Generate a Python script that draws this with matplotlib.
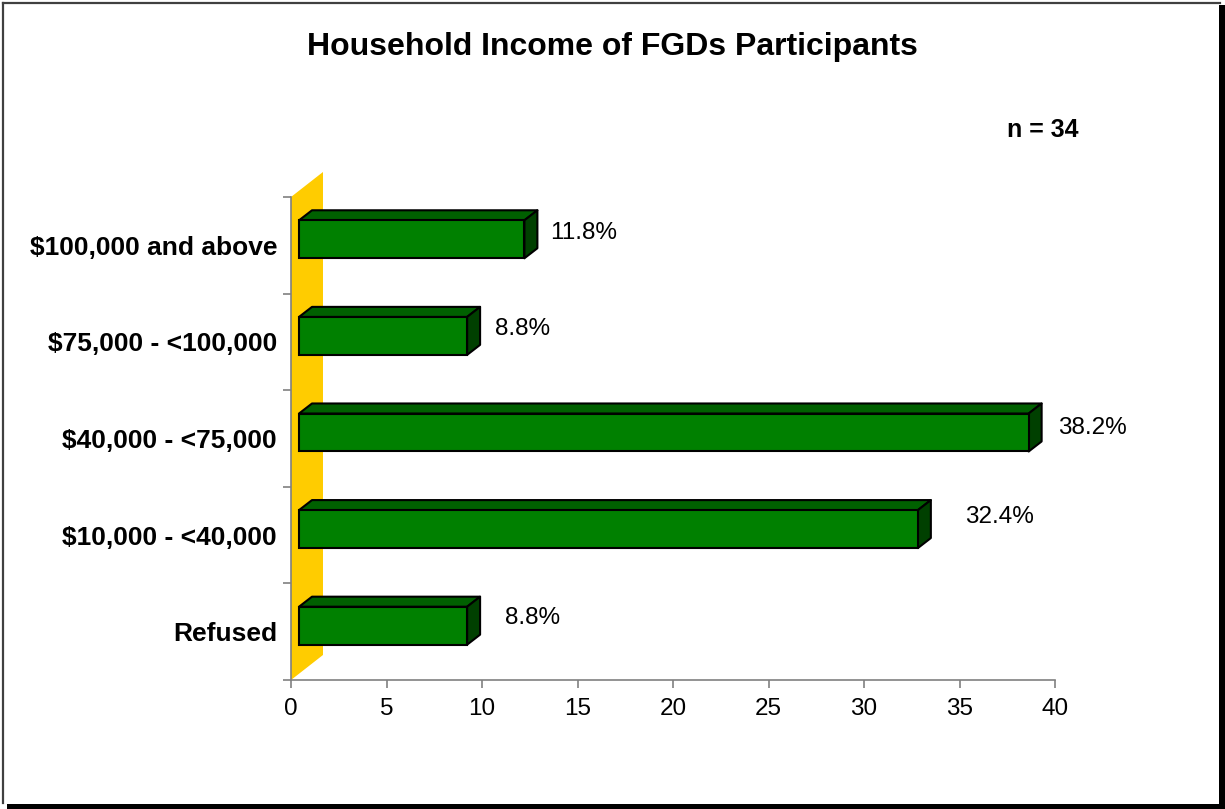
import matplotlib.pyplot as plt
from matplotlib.patches import Polygon, Rectangle
from matplotlib.lines import Line2D

plt.rcParams['font.family'] = ['Liberation Sans', 'DejaVu Sans']

# data dari gambar (urut dari bawah ke atas)
kategori = ["Refused", "$10,000 - <40,000", "$40,000 - <75,000",
            "$75,000 - <100,000", "$100,000 and above"]
persen = [8.8, 32.4, 38.2, 8.8, 11.8]
label_persen = ["8.8%", "32.4%", "38.2%", "8.8%", "11.8%"]
x_ticks = [0, 5, 10, 15, 20, 25, 30, 35, 40]
judul = "Household Income of FGDs Participants"
n_text = "n = 34"

# geser label persen (pixel) dari ujung bar
geser_x = [46, 55, 37, 36, 34]
geser_y = [14, 18, 10, 13, 12]

W, H = 1225, 809
fig = plt.figure(figsize=(W / 100, H / 100), dpi=100)
ax = fig.add_axes([291 / W, 1 - 680 / H, 764 / W, 483 / H])
ax.set_xlim(0, 40)
ax.set_ylim(-0.5, len(kategori) - 0.5)

# efek 3d
x0 = 0.42        # awal muka depan bar
dx = 0.68        # kedalaman ke belakang (data x)
dy = 0.104       # kedalaman ke atas (data y)
tinggi = 0.393
naik = 0.062
lw = 1.5

# dinding kuning
wx = 1.675
wy = 0.259
ytop = len(kategori) - 0.5
dinding = Polygon([(0, -0.5), (0, ytop), (wx, ytop + wy), (wx, -0.5 + wy)],
                  closed=True, facecolor="#FFCC00", edgecolor="none",
                  clip_on=False, zorder=1)
ax.add_patch(dinding)

for i, v in enumerate(persen):
    b = i + naik - tinggi / 2
    t = b + tinggi
    x1 = x0 + v
    depan = Rectangle((x0, b), v, tinggi, facecolor="#008000",
                      edgecolor="black", linewidth=lw, zorder=3)
    atas = Polygon([(x0, t), (x0 + dx, t + dy), (x1 + dx, t + dy), (x1, t)],
                   closed=True, facecolor="#006000", edgecolor="black",
                   linewidth=lw, zorder=3, joinstyle="round")
    samping = Polygon([(x1, b), (x1, t), (x1 + dx, t + dy), (x1 + dx, b + dy)],
                      closed=True, facecolor="#004000", edgecolor="black",
                      linewidth=lw, zorder=3, joinstyle="round")
    ax.add_patch(atas)
    ax.add_patch(samping)
    ax.add_patch(depan)
    ax.annotate(label_persen[i], xy=(v, i), xytext=(geser_x[i] * 0.72, geser_y[i] * 0.72),
                textcoords="offset points", ha="left", va="center",
                fontsize=17.5, color="black", zorder=4)

# sumbu
for s in ["top", "right"]:
    ax.spines[s].set_visible(False)
for s in ["left", "bottom"]:
    ax.spines[s].set_color("#808080")
    ax.spines[s].set_linewidth(1.2)
    ax.spines[s].set_zorder(2)

ax.set_xticks(x_ticks)
ax.set_xticklabels([str(x) for x in x_ticks], fontsize=17.5)
ax.tick_params(axis="x", direction="out", length=6, width=1.2, color="#808080", pad=7)

ax.set_yticks([k - 0.5 for k in range(len(kategori) + 1)])
ax.set_yticklabels([])
ax.set_yticks(range(len(kategori)), minor=True)
ax.set_yticklabels(kategori, minor=True, fontsize=19, fontweight="bold")
ax.tick_params(axis="y", which="major", direction="out", length=6, width=1.2, color="#808080")
ax.tick_params(axis="y", which="minor", length=0, pad=10)

fig.text(612 / W, 1 - 47 / H, judul, ha="center", va="center",
         fontsize=23, fontweight="bold")
fig.text(1043 / W, 1 - 130 / H, n_text, ha="center", va="center",
         fontsize=18, fontweight="bold")

# bingkai luar
fig.add_artist(Line2D([2.5 / W, 2.5 / W], [6 / H, 1 - 2.5 / H], color="#404040",
                      linewidth=1.6, transform=fig.transFigure))
fig.add_artist(Line2D([2.5 / W, 1 - 5 / W], [1 - 2.5 / H, 1 - 2.5 / H], color="#404040",
                      linewidth=1.6, transform=fig.transFigure))
fig.add_artist(Rectangle((1 - 6 / W, 0), 6 / W, 1 - 5 / H, facecolor="black",
                         edgecolor="none", transform=fig.transFigure))
fig.add_artist(Rectangle((7 / W, 0), 1 - 7 / W, 5 / H, facecolor="black",
                         edgecolor="none", transform=fig.transFigure))

fig.savefig("out.png", dpi=100)
